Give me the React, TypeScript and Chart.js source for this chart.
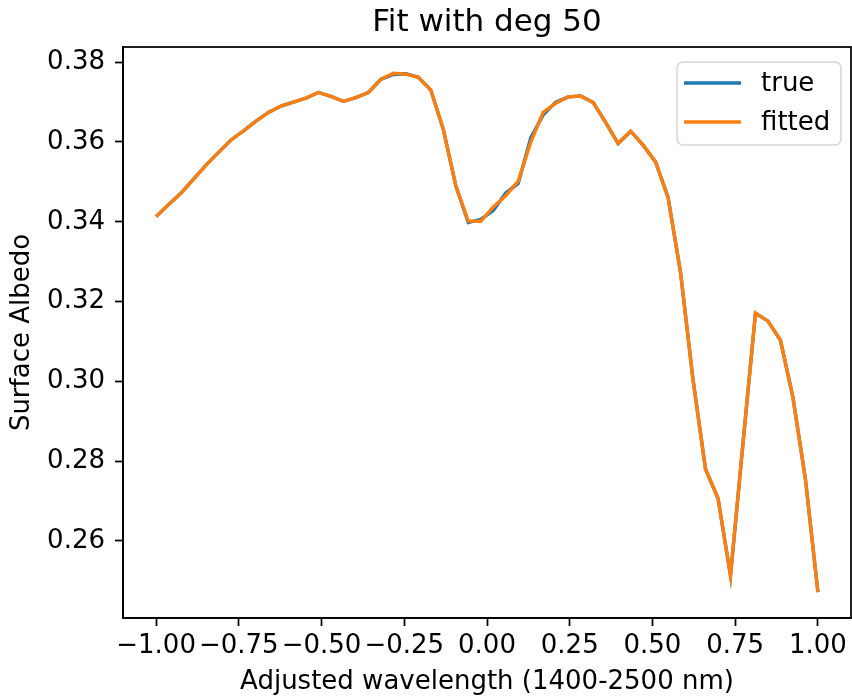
import React, { useEffect, useRef } from "react";
import { Chart, registerables } from "chart.js";

Chart.register(...registerables);

const xValues = [
  -1.0, -0.9623, -0.9245, -0.8868, -0.8491, -0.8113, -0.7736, -0.7358, -0.6981, -0.6604,
  -0.6226, -0.5849, -0.5472, -0.5094, -0.4717, -0.434, -0.3962, -0.3585, -0.3208, -0.283,
  -0.2453, -0.2075, -0.1698, -0.1321, -0.0943, -0.0566, -0.0189, 0.0189, 0.0566, 0.0943,
  0.1321, 0.1698, 0.2075, 0.2453, 0.283, 0.3208, 0.3585, 0.3962, 0.434, 0.4717,
  0.5094, 0.5472, 0.5849, 0.6226, 0.6604, 0.6981, 0.7358, 0.7736, 0.8113, 0.8491,
  0.8868, 0.9245, 0.9623, 1.0,
];

const trueValues = [
  0.3413, 0.3443, 0.3472, 0.3507, 0.3542, 0.3574, 0.3605, 0.3628, 0.3652, 0.3674,
  0.369, 0.37, 0.371, 0.3724, 0.3714, 0.3702, 0.3711, 0.3724, 0.3757, 0.3769,
  0.3771, 0.3762, 0.373, 0.3632, 0.349, 0.3398, 0.3406, 0.3428, 0.3472, 0.3496,
  0.361, 0.3668, 0.37, 0.3713, 0.3715, 0.3699, 0.3649, 0.3596, 0.3627, 0.3592,
  0.355, 0.3461, 0.3273, 0.3004, 0.278, 0.2707, 0.2513, 0.2845, 0.3171, 0.3151,
  0.3103, 0.296, 0.2755, 0.2472,
];

const fittedValues = [
  0.3413, 0.3443, 0.3472, 0.3507, 0.3542, 0.3574, 0.3605, 0.3628, 0.3652, 0.3674,
  0.369, 0.37, 0.371, 0.3724, 0.3714, 0.3702, 0.3711, 0.3724, 0.3757, 0.3772,
  0.377, 0.3762, 0.373, 0.3632, 0.349, 0.3402, 0.3401, 0.3437, 0.3465, 0.3502,
  0.3599, 0.3674, 0.3697, 0.3713, 0.3715, 0.3699, 0.3649, 0.3596, 0.3627, 0.3592,
  0.355, 0.3461, 0.3273, 0.3004, 0.278, 0.2707, 0.2513, 0.2845, 0.3171, 0.3151,
  0.3103, 0.296, 0.2755, 0.2472,
];

const xTicks = [-1.0, -0.75, -0.5, -0.25, 0.0, 0.25, 0.5, 0.75, 1.0];
const yTicks = [0.26, 0.28, 0.3, 0.32, 0.34, 0.36, 0.38];

const seriesLabels = ["true", "fitted"];
const seriesColors = ["#1f77b4", "#ff7f0e"];
const titleText = "Fit with deg 50";
const xTitle = "Adjusted wavelength (1400-2500 nm)";
const yTitle = "Surface Albedo";

const FONT = "'DejaVu Sans', sans-serif";

const framePlugin = {
  id: "frameAndExtras",
  afterDraw(chart: any) {
    const { ctx, chartArea } = chart;
    ctx.save();
    ctx.strokeStyle = "#000";
    ctx.lineWidth = 1.75;
    ctx.strokeRect(chartArea.left, chartArea.top, chartArea.right - chartArea.left, chartArea.bottom - chartArea.top);
    ctx.fillStyle = "#000";
    ctx.font = `31px ${FONT}`;
    ctx.textAlign = "center";
    ctx.textBaseline = "middle";
    ctx.fillText(titleText, (chartArea.left + chartArea.right) / 2, 23);
    const bx = 677, by = 62, bw = 164, bh = 83, r = 6;
    ctx.beginPath();
    ctx.moveTo(bx + r, by);
    ctx.lineTo(bx + bw - r, by);
    ctx.arcTo(bx + bw, by, bx + bw, by + r, r);
    ctx.lineTo(bx + bw, by + bh - r);
    ctx.arcTo(bx + bw, by + bh, bx + bw - r, by + bh, r);
    ctx.lineTo(bx + r, by + bh);
    ctx.arcTo(bx, by + bh, bx, by + bh - r, r);
    ctx.lineTo(bx, by + r);
    ctx.arcTo(bx, by, bx + r, by, r);
    ctx.closePath();
    ctx.fillStyle = "rgba(255,255,255,0.8)";
    ctx.fill();
    ctx.strokeStyle = "#d6d6d6";
    ctx.lineWidth = 1.5;
    ctx.stroke();
    const rows = [83, 122];
    chart.data.datasets.forEach((ds: any, i: number) => {
      const y = rows[i];
      ctx.beginPath();
      ctx.moveTo(684, y);
      ctx.lineTo(741, y);
      ctx.strokeStyle = ds.borderColor;
      ctx.lineWidth = 3.4;
      ctx.stroke();
      ctx.fillStyle = "#000";
      ctx.font = `26px ${FONT}`;
      ctx.textAlign = "left";
      ctx.textBaseline = "middle";
      ctx.fillText(ds.label, 761, y + 1);
    });
    ctx.restore();
  },
};

const fmt = (v: number) => v.toFixed(2).replace("-", "\u2212");

export default function App() {
  const ref = useRef<HTMLCanvasElement | null>(null);
  useEffect(() => {
    if (!ref.current) return;
    const mk = (vals: number[]) => xValues.map((x, i) => ({ x, y: vals[i] }));
    const chart = new Chart(ref.current, {
      type: "line",
      data: {
        datasets: [
          {
            label: seriesLabels[0],
            data: mk(trueValues),
            borderColor: seriesColors[0],
            backgroundColor: seriesColors[0],
            borderWidth: 3.4,
            pointRadius: 0,
            tension: 0,
            order: 2,
          },
          {
            label: seriesLabels[1],
            data: mk(fittedValues),
            borderColor: seriesColors[1],
            backgroundColor: seriesColors[1],
            borderWidth: 3.4,
            pointRadius: 0,
            tension: 0,
            order: 1,
          },
        ],
      },
      options: {
        responsive: false,
        animation: false,
        events: [],
        layout: { padding: { top: 47, right: 1, left: 0, bottom: 0 } },
        plugins: {
          legend: { display: false },
          title: { display: false },
          tooltip: { enabled: false },
        },
        scales: {
          x: {
            type: "linear",
            min: -1.1,
            max: 1.1,
            afterBuildTicks: (s: any) => {
              s.ticks = xTicks.map((v) => ({ value: v }));
            },
            afterFit: (s: any) => {
              s.height = 80;
            },
            grid: {
              display: true,
              drawOnChartArea: false,
              drawTicks: true,
              tickLength: 8,
              tickWidth: 1.75,
              tickColor: "#000",
            },
            border: { display: true, color: "#000", width: 1.75 },
            ticks: {
              color: "#000",
              font: { family: FONT, size: 26 },
              padding: 5,
              maxRotation: 0,
              autoSkip: false,
              callback: (v: any) => fmt(Number(v)),
            },
            title: {
              display: true,
              text: xTitle,
              color: "#000",
              font: { family: FONT, size: 26 },
              padding: { top: 0, bottom: 0 },
            },
          },
          y: {
            type: "linear",
            min: 0.2407,
            max: 0.3838,
            afterBuildTicks: (s: any) => {
              s.ticks = yTicks.map((v) => ({ value: v }));
            },
            afterFit: (s: any) => {
              s.width = 123;
            },
            grid: {
              display: true,
              drawOnChartArea: false,
              drawTicks: true,
              tickLength: 8,
              tickWidth: 1.75,
              tickColor: "#000",
            },
            border: { display: true, color: "#000", width: 1.75 },
            ticks: {
              color: "#000",
              font: { family: FONT, size: 26 },
              padding: 10,
              autoSkip: false,
              callback: (v: any) => Number(v).toFixed(2),
            },
            title: {
              display: true,
              text: yTitle,
              color: "#000",
              font: { family: FONT, size: 26 },
              padding: { top: 7, bottom: 0 },
            },
          },
        },
      },
      plugins: [framePlugin],
    } as any);
    return () => chart.destroy();
  }, []);
  return (
    <div style={{ position: "absolute", left: 0, top: 0, width: 852, height: 698, background: "#fff" }}>
      <canvas ref={ref} width={852} height={698} style={{ display: "block" }} />
    </div>
  );
}
